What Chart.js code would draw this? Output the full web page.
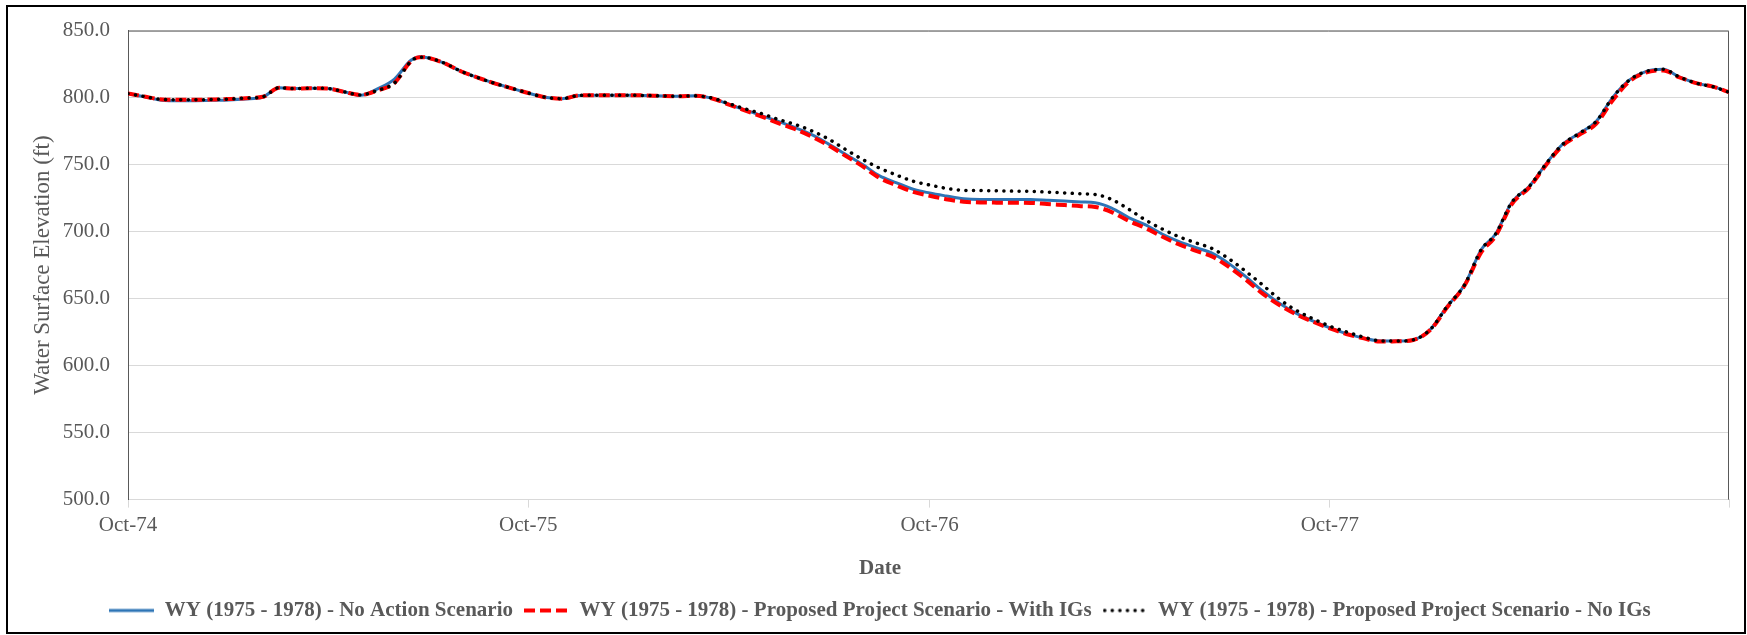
<!DOCTYPE html>
<html>
<head>
<meta charset="utf-8">
<script src="https://cdn.jsdelivr.net/npm/chart.js@4.4.0/dist/chart.umd.min.js"></script>
<style>
  html, body { margin: 0; padding: 0; background: #fff; }
  #wrap { width: 1747px; height: 635px; position: relative; }
</style>
</head>
<body>
<div id="wrap"><canvas id="chartElevation"></canvas></div>
<script>
// semi-monthly readings, WY 1975 - 1978
const dates = [
  '1974-10-01', '1974-10-16', '1974-11-01', '1974-11-16', '1974-12-01', '1974-12-16',
  '1975-01-01', '1975-01-16', '1975-02-01', '1975-02-16', '1975-03-01', '1975-03-16',
  '1975-04-01', '1975-04-16', '1975-05-01', '1975-05-16', '1975-06-01', '1975-06-16',
  '1975-06-24', '1975-07-01', '1975-07-16', '1975-08-01', '1975-08-16', '1975-09-01', '1975-09-16',
  '1975-10-01', '1975-10-16', '1975-11-01', '1975-11-16', '1975-12-01', '1975-12-16',
  '1976-01-01', '1976-01-16', '1976-02-01', '1976-02-16', '1976-03-01', '1976-03-16',
  '1976-04-01', '1976-04-16', '1976-05-01', '1976-05-16', '1976-06-01', '1976-06-16',
  '1976-07-01', '1976-07-16', '1976-08-01', '1976-08-16', '1976-09-01', '1976-09-16',
  '1976-10-01', '1976-10-16', '1976-11-01', '1976-11-16', '1976-12-01', '1976-12-16',
  '1977-01-01', '1977-01-16', '1977-02-01', '1977-02-16', '1977-03-01', '1977-03-16',
  '1977-04-01', '1977-04-16', '1977-05-01', '1977-05-16', '1977-06-01', '1977-06-16',
  '1977-07-01', '1977-07-16', '1977-08-01', '1977-08-16', '1977-09-01', '1977-09-16',
  '1977-10-01', '1977-10-16', '1977-11-01', '1977-11-16', '1977-12-01', '1977-12-16',
  '1978-01-01', '1978-01-16', '1978-02-01', '1978-02-16', '1978-03-01', '1978-03-16',
  '1978-04-01', '1978-04-16', '1978-05-01', '1978-05-16', '1978-06-01', '1978-06-16',
  '1978-07-01', '1978-07-16', '1978-08-01', '1978-08-16', '1978-09-01', '1978-09-16',
  '1978-09-30'
];

const noAction = [
  803.0, 800.6, 798.0, 797.6, 797.7, 798.0, 798.3, 799.0, 800.4, 807.4, 806.7, 807.0,
  806.8, 804.3, 801.8, 806.3, 813.8, 827.9, 830.4, 829.8, 825.9, 819.5, 814.9, 810.5, 806.9,
  803.4, 800.3, 799.2, 801.6, 801.8, 801.8, 801.8, 801.6, 801.2, 801.0, 801.3, 799.6,
  795.0, 790.7, 786.6, 782.2, 777.4, 772.2, 765.3, 757.9, 750.0, 741.8, 736.4, 731.6,
  728.8, 726.6, 724.5, 724.0, 724.0, 724.0, 723.9, 723.4, 722.8, 722.1, 721.5, 717.6,
  710.3, 705.0, 698.2, 692.7, 688.0, 683.7, 676.1, 666.6, 655.5, 646.5, 638.8, 633.1,
  628.1, 623.9, 620.5, 618.3, 618.3, 619.2, 627.3, 644.2, 660.5, 686.5, 698.0, 721.9,
  733.8, 750.4, 765.0, 773.1, 782.3, 800.2, 813.0, 819.4, 821.1, 815.3, 810.6, 808.0,
  804.0
];

const withIGs = [
  803.0, 800.8, 798.6, 798.4, 798.4, 798.6, 798.9, 799.6, 800.6, 807.4, 806.7, 807.0,
  806.8, 804.3, 802.0, 805.2, 810.9, 827.0, 830.2, 829.8, 825.9, 819.5, 814.9, 810.5, 806.9,
  803.4, 800.3, 799.2, 801.6, 801.8, 801.8, 801.8, 801.6, 801.2, 801.0, 801.3, 799.5,
  794.8, 790.2, 785.8, 781.0, 776.2, 770.7, 764.2, 756.7, 748.7, 740.2, 734.4, 729.6,
  726.7, 724.2, 722.3, 721.8, 721.6, 721.5, 721.4, 720.6, 719.8, 719.0, 718.4, 714.6,
  707.8, 702.6, 696.3, 690.6, 685.6, 681.3, 673.6, 664.4, 653.5, 645.2, 638.0, 632.6,
  627.8, 623.6, 620.3, 618.0, 618.1, 619.1, 627.0, 643.5, 660.0, 684.5, 696.5, 720.5,
  733.0, 749.5, 764.0, 772.0, 780.5, 798.0, 812.0, 818.6, 820.3, 815.0, 810.6, 808.0,
  804.0
];

const noIGs = [
  803.0, 800.8, 798.6, 798.4, 798.4, 798.6, 798.9, 799.6, 800.6, 807.4, 806.7, 807.0,
  806.8, 804.3, 802.0, 805.2, 810.9, 827.0, 830.2, 829.8, 825.9, 819.5, 814.9, 810.5, 806.9,
  803.4, 800.3, 799.2, 801.6, 801.8, 801.8, 801.8, 801.6, 801.2, 801.0, 801.3, 799.8,
  795.5, 791.5, 788.0, 783.7, 779.8, 775.0, 769.0, 761.5, 753.8, 747.5, 742.1, 737.6,
  734.8, 732.3, 730.8, 730.6, 730.4, 730.2, 730.0, 729.5, 728.9, 728.2, 727.7, 724.0,
  716.5, 708.6, 702.0, 696.3, 691.6, 687.2, 679.7, 670.5, 660.0, 649.6, 640.9, 634.8,
  629.4, 625.2, 621.2, 618.5, 618.3, 619.2, 627.3, 644.2, 660.5, 686.5, 698.0, 721.9,
  733.8, 750.4, 765.0, 773.1, 782.3, 800.2, 813.0, 819.4, 821.1, 815.3, 810.6, 808.0,
  804.0
];

const tickDates = ['1974-10-01', '1975-10-01', '1976-10-01', '1977-10-01', '1978-09-30'];
const tickLabels = ['Oct-74', 'Oct-75', 'Oct-76', 'Oct-77', ''];

const seriesNames = [
  'WY (1975 - 1978) - No Action Scenario',
  'WY (1975 - 1978) - Proposed Project Scenario - With IGs',
  'WY (1975 - 1978) - Proposed Project Scenario - No IGs'
];

const t0 = Date.parse(dates[0]);
const dayOf = s => (Date.parse(s) - t0) / 864e5;
const tickDays = tickDates.map(dayOf);
const pts = vals => dates.map((d, i) => ({ x: dayOf(d), y: vals[i] }));

// small line sample for the legend, so dashes show there too
function lineSample(color, width, dash, cap) {
  const c = document.createElement('canvas');
  c.width = 45;
  c.height = 8;
  const g = c.getContext('2d');
  g.strokeStyle = color;
  g.lineWidth = width;
  g.lineCap = cap;
  g.setLineDash(dash);
  g.beginPath();
  g.moveTo(cap === 'round' ? 2 : 0, 4);
  g.lineTo(45, 4);
  g.stroke();
  return c;
}

Chart.defaults.font.family = '"Liberation Serif", "Times New Roman", serif';
Chart.defaults.color = '#595959';

const frame = {
  id: 'frame',
  beforeDraw(chart) {
    const ctx = chart.ctx;
    ctx.save();
    ctx.fillStyle = '#fff';
    ctx.fillRect(0, 0, chart.width, chart.height);
    ctx.restore();
  },
  beforeDatasetsDraw(chart) {
    const { ctx, chartArea: a } = chart;
    ctx.save();
    ctx.strokeStyle = '#595959';
    ctx.lineWidth = 1;
    ctx.beginPath();
    ctx.moveTo(a.left, a.top + 0.5);
    ctx.lineTo(a.right - 0.5, a.top + 0.5);
    ctx.lineTo(a.right - 0.5, a.bottom);
    ctx.stroke();
    ctx.restore();
  },
  afterDraw(chart) {
    const ctx = chart.ctx;
    ctx.save();
    ctx.strokeStyle = '#000';
    ctx.lineWidth = 2;
    ctx.strokeRect(7, 6, chart.width - 9, chart.height - 8);
    ctx.restore();
  }
};

new Chart(document.getElementById('chartElevation'), {
  type: 'line',
  data: {
    datasets: [{
      label: seriesNames[0],
      data: pts(noAction),
      borderColor: '#2E75B6',
      borderWidth: 3,
      pointStyle: lineSample('#2E75B6', 3, [], 'butt'),
      order: 3
    }, {
      label: seriesNames[1],
      data: pts(withIGs),
      borderColor: '#FF0000',
      borderWidth: 4,
      borderDash: [11, 5],
      pointStyle: lineSample('#FF0000', 4, [11, 5], 'butt'),
      order: 2
    }, {
      label: seriesNames[2],
      data: pts(noIGs),
      borderColor: '#000000',
      borderWidth: 3.5,
      borderDash: [0.1, 7.5],
      borderCapStyle: 'round',
      pointStyle: lineSample('#000000', 3.5, [0.1, 7.5], 'round'),
      order: 1
    }]
  },
  options: {
    responsive: true,
    maintainAspectRatio: false,
    animation: false,
    devicePixelRatio: 1,
    elements: {
      point: { radius: 0 },
      line: { cubicInterpolationMode: 'monotone', fill: false }
    },
    layout: { padding: { left: 31, right: 18, top: 27, bottom: 4 } },
    scales: {
      x: {
        type: 'linear',
        min: 0,
        max: tickDays[tickDays.length - 1],
        afterBuildTicks: s => { s.ticks = tickDays.map(v => ({ value: v })); },
        ticks: {
          autoSkip: false,
          maxRotation: 0,
          padding: 5,
          font: { size: 21 },
          callback: v => tickLabels[tickDays.indexOf(v)] ?? ''
        },
        grid: { drawOnChartArea: false, drawTicks: true, tickLength: 8, color: '#d9d9d9' },
        border: { color: '#d9d9d9' }
      },
      y: {
        min: 500,
        max: 850,
        afterFit: s => { s.width = 97; },
        ticks: {
          stepSize: 50,
          padding: 18,
          font: { size: 21 },
          callback: v => v.toFixed(1)
        },
        grid: { color: '#d9d9d9', drawTicks: false },
        border: { color: '#595959' },
        title: {
          display: true,
          text: 'Water Surface Elevation (ft)',
          font: { size: 23, lineHeight: 1 },
          padding: 0
        }
      }
    },
    plugins: {
      tooltip: { enabled: false },
      title: {
        display: true,
        text: 'Date',
        position: 'bottom',
        weight: 500,
        padding: { top: 13, bottom: 8 },
        font: { size: 21, weight: 'bold' },
        color: '#595959'
      },
      legend: {
        position: 'bottom',
        labels: {
          usePointStyle: true,
          pointStyleWidth: 45,
          padding: 11,
          font: { size: 21, weight: 'bold' },
          color: '#595959',
          sort: (a, b) => a.datasetIndex - b.datasetIndex
        }
      }
    }
  },
  plugins: [frame]
});
</script>
</body>
</html>
